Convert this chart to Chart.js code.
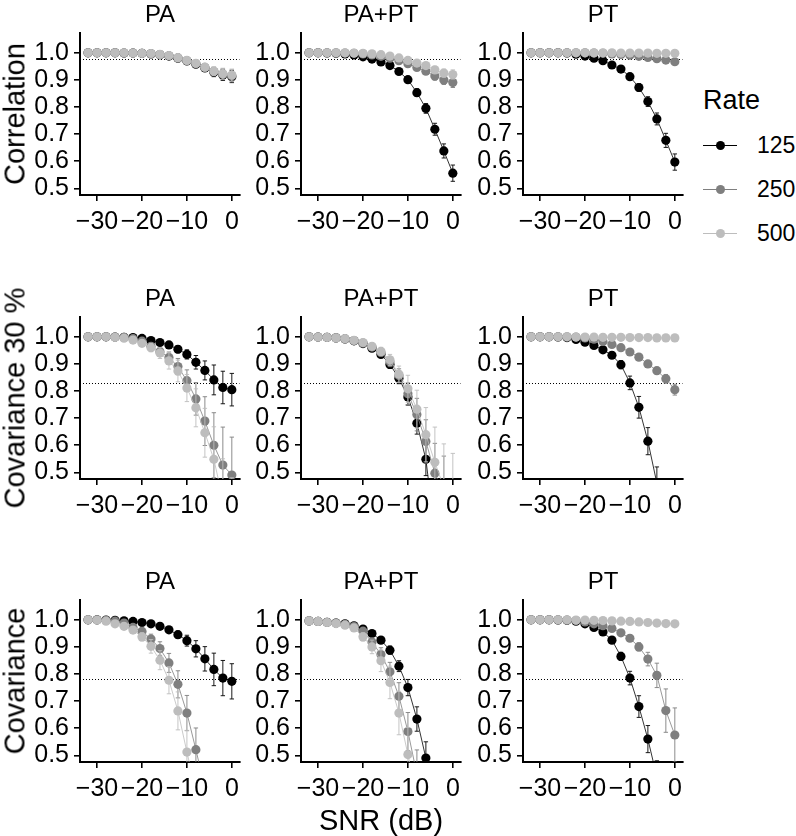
<!DOCTYPE html>
<html><head><meta charset="utf-8">
<script src="https://cdn.jsdelivr.net/npm/chart.js@4.4.0/dist/chart.umd.min.js"></script>
<style>
body{margin:0;background:#fff;width:796px;height:836px;position:relative;overflow:hidden;font-family:"Liberation Sans",Arial,sans-serif;}
canvas{position:absolute;}
.t{position:absolute;white-space:nowrap;color:#000;line-height:1;}
.c{transform:translate(-50%,-50%);}
.l{transform:translate(0,-50%);}
.r{transform:translate(-50%,-50%) rotate(-90deg);}
.key{position:absolute;height:1px;}
.dot{position:absolute;width:9px;height:9px;border-radius:50%;}
</style></head><body>
<script>
// ---------- data ----------
const snr = [-32,-30,-28,-26,-24,-22,-20,-18,-16,-14,-12,-10,-8,-6,-4,-2,0];
const rates = ['125','250','500'];
const rateColors = ['#000000','#7f7f7f','#bdbdbd'];
const panelTitles = ['PA','PA+PT','PT'];
const rowLabels = ['Correlation','Covariance 30 %','Covariance'];
const refLines = [0.978, 0.83, 0.78];
const xTicks = [-30,-20,-10,0];
const yTicks = [0.5,0.6,0.7,0.8,0.9,1.0];

// Row 1: Correlation
const corrPA125    = [1.000,1.000,1.000,1.000,0.999,0.999,0.998,0.996,0.993,0.988,0.980,0.970,0.958,0.944,0.928,0.918,0.912];
const corrPA125Err = [0,0,0,0,0,0,0,0.001,0.002,0.003,0.005,0.007,0.010,0.012,0.016,0.020,0.022];
const corrPA250    = [1.000,1.000,1.000,1.000,0.999,0.999,0.998,0.996,0.993,0.989,0.981,0.971,0.960,0.946,0.931,0.921,0.915];
const corrPA250Err = [0,0,0,0,0,0,0,0.001,0.002,0.003,0.005,0.007,0.010,0.012,0.016,0.020,0.022];
const corrPA500    = [1.000,1.000,1.000,1.000,1.000,0.999,0.998,0.997,0.994,0.990,0.982,0.972,0.961,0.947,0.932,0.923,0.918];
const corrPA500Err = [0,0,0,0,0,0,0,0.001,0.002,0.003,0.005,0.007,0.010,0.012,0.016,0.020,0.022];

const corrPAPT125    = [1.000,1.000,0.999,0.998,0.996,0.992,0.985,0.977,0.966,0.953,0.931,0.901,0.853,0.795,0.718,0.638,0.556];
const corrPAPT125Err = [0,0,0,0,0.001,0.002,0.003,0.004,0.005,0.006,0.008,0.010,0.014,0.018,0.022,0.026,0.030];
const corrPAPT250    = [1.000,1.000,1.000,1.000,0.999,0.998,0.996,0.992,0.987,0.980,0.971,0.960,0.946,0.932,0.914,0.900,0.890];
const corrPAPT250Err = [0,0,0,0,0,0,0.001,0.002,0.003,0.004,0.006,0.008,0.010,0.012,0.015,0.017,0.018];
const corrPAPT500    = [1.000,1.000,1.000,1.000,1.000,0.999,0.998,0.996,0.993,0.988,0.981,0.972,0.962,0.953,0.937,0.925,0.920];
const corrPAPT500Err = [0,0,0,0,0,0,0.001,0.001,0.002,0.003,0.005,0.007,0.009,0.011,0.013,0.015,0.017];

const corrPT125    = [1.000,1.000,1.000,1.000,0.999,0.995,0.988,0.980,0.971,0.955,0.940,0.912,0.872,0.820,0.756,0.677,0.597];
const corrPT125Err = [0,0,0,0,0.001,0.002,0.003,0.004,0.005,0.006,0.008,0.010,0.014,0.018,0.022,0.026,0.030];
const corrPT250    = [1.000,1.000,1.000,1.000,1.000,1.000,1.000,0.999,0.998,0.996,0.994,0.991,0.987,0.983,0.978,0.973,0.967];
const corrPT250Err = [0,0,0,0,0,0,0,0,0.001,0.001,0.002,0.002,0.003,0.003,0.004,0.004,0.005];
const corrPT500    = [1.000,1.000,1.000,1.000,1.000,1.000,1.000,1.000,1.000,1.000,0.999,0.999,0.999,0.999,0.998,0.998,0.998];
const corrPT500Err = [0,0,0,0,0,0,0,0,0,0,0,0,0,0.001,0.001,0.001,0.001];

// Row 2: Covariance 30 %
const cov30PA125    = [1.000,1.000,1.000,0.999,0.998,0.997,0.994,0.986,0.979,0.970,0.954,0.935,0.906,0.876,0.841,0.813,0.805];
const cov30PA125Err = [0,0,0,0,0,0.002,0.003,0.005,0.007,0.010,0.013,0.017,0.025,0.035,0.055,0.060,0.060];
const cov30PA250    = [1.000,1.000,1.000,0.999,0.998,0.993,0.984,0.965,0.945,0.924,0.890,0.838,0.771,0.689,0.600,0.527,0.490];
const cov30PA250Err = [0,0,0,0,0.002,0.004,0.006,0.010,0.015,0.020,0.030,0.040,0.060,0.090,0.120,0.140,0.140];
const cov30PA500    = [1.000,1.000,1.000,0.998,0.995,0.988,0.976,0.960,0.940,0.911,0.874,0.811,0.738,0.646,0.548,0.400,0.330];
const cov30PA500Err = [0,0,0,0.001,0.003,0.006,0.010,0.015,0.020,0.030,0.040,0.050,0.070,0.090,0.120,0.150,0.150];

const cov30PAPT125    = [1.000,0.999,0.998,0.996,0.992,0.985,0.975,0.958,0.935,0.898,0.847,0.778,0.681,0.548,0.280,null,null];
const cov30PAPT125Err = [0,0,0,0,0.002,0.004,0.006,0.008,0.010,0.015,0.020,0.030,0.040,0.060,0.080,0,0];
const cov30PAPT250    = [1.000,0.999,0.998,0.996,0.992,0.986,0.977,0.962,0.942,0.908,0.857,0.790,0.713,0.614,0.497,0.420,null];
const cov30PAPT250Err = [0,0,0,0,0.002,0.004,0.006,0.008,0.012,0.018,0.025,0.040,0.060,0.080,0.110,0.140,0];
const cov30PAPT500    = [1.000,0.999,0.998,0.996,0.993,0.987,0.979,0.965,0.946,0.915,0.862,0.808,0.733,0.639,0.537,0.445,0.400];
const cov30PAPT500Err = [0,0,0,0,0.002,0.004,0.006,0.010,0.015,0.020,0.030,0.050,0.070,0.100,0.130,0.160,0.170];

const cov30PT125    = [1.000,1.000,1.000,0.999,0.997,0.990,0.980,0.968,0.952,0.932,0.897,0.830,0.740,0.615,0.460,null,null];
const cov30PT125Err = [0,0,0,0,0.002,0.004,0.006,0.008,0.010,0.012,0.015,0.025,0.040,0.050,0.060,0,0];
const cov30PT250    = [1.000,1.000,1.000,1.000,1.000,0.999,0.996,0.991,0.983,0.972,0.960,0.944,0.925,0.900,0.875,0.845,0.805];
const cov30PT250Err = [0,0,0,0,0,0,0.001,0.002,0.003,0.004,0.005,0.006,0.008,0.010,0.012,0.016,0.020];
const cov30PT500    = [1.000,1.000,1.000,1.000,1.000,0.999,0.999,0.999,0.998,0.998,0.998,0.997,0.997,0.997,0.996,0.996,0.996];
const cov30PT500Err = [0,0,0,0,0,0,0,0,0,0,0.001,0.001,0.001,0.001,0.001,0.001,0.001];

// Row 3: Covariance
const covPA125    = [1.000,1.000,0.999,0.998,0.996,0.994,0.990,0.985,0.976,0.963,0.945,0.923,0.893,0.856,0.817,0.785,0.773];
const covPA125Err = [0,0,0,0,0.002,0.003,0.004,0.005,0.007,0.010,0.013,0.020,0.030,0.045,0.060,0.065,0.065];
const covPA250    = [1.000,0.999,0.998,0.995,0.988,0.972,0.957,0.929,0.894,0.841,0.762,0.656,0.521,0.380,null,null,null];
const covPA250Err = [0,0,0,0.002,0.004,0.008,0.012,0.018,0.025,0.035,0.050,0.065,0.080,0.090,0,0,0];
const covPA500    = [1.000,0.999,0.995,0.985,0.976,0.962,0.937,0.902,0.851,0.777,0.664,0.512,0.370,null,null,null,null];
const covPA500Err = [0,0,0.002,0.004,0.006,0.010,0.015,0.025,0.035,0.050,0.070,0.080,0.090,0,0,0,0];

const covPAPT125    = [0.996,0.994,0.991,0.988,0.985,0.978,0.966,0.949,0.925,0.888,0.829,0.750,0.634,0.490,0.330,null,null];
const covPAPT125Err = [0,0,0,0,0.002,0.004,0.006,0.008,0.010,0.015,0.020,0.030,0.045,0.060,0.070,0,0];
const covPAPT250    = [0.996,0.994,0.991,0.988,0.983,0.975,0.958,0.918,0.872,0.808,0.718,0.588,0.430,null,null,null,null];
const covPAPT250Err = [0,0,0,0,0.003,0.005,0.008,0.015,0.025,0.035,0.050,0.070,0.090,0,0,0,0];
const covPAPT500    = [0.996,0.994,0.990,0.986,0.980,0.970,0.937,0.900,0.849,0.769,0.656,0.503,0.350,null,null,null,null];
const covPAPT500Err = [0,0,0,0,0.004,0.008,0.015,0.025,0.040,0.060,0.080,0.100,0.110,0,0,0,0];

const covPT125    = [1.000,1.000,1.000,0.999,0.998,0.995,0.985,0.972,0.955,0.925,0.865,0.785,0.680,0.560,0.420,null,null];
const covPT125Err = [0,0,0,0,0.001,0.002,0.004,0.006,0.008,0.010,0.015,0.025,0.040,0.050,0.060,0,0];
const covPT250    = [1.000,1.000,1.000,1.000,0.999,0.997,0.992,0.985,0.978,0.968,0.952,0.932,0.900,0.855,0.795,0.665,0.575];
const covPT250Err = [0,0,0,0,0,0.001,0.002,0.003,0.004,0.006,0.008,0.010,0.015,0.025,0.045,0.080,0.100];
const covPT500    = [1.000,1.000,1.000,1.000,1.000,0.999,0.999,0.998,0.997,0.996,0.995,0.994,0.992,0.990,0.988,0.986,0.985];
const covPT500Err = [0,0,0,0,0,0,0,0,0,0,0.001,0.001,0.001,0.001,0.001,0.002,0.002];

// panel grid: [row][col] -> [values, errors] per rate
const grid = [
  [[[corrPA125,corrPA125Err],[corrPA250,corrPA250Err],[corrPA500,corrPA500Err]],
   [[corrPAPT125,corrPAPT125Err],[corrPAPT250,corrPAPT250Err],[corrPAPT500,corrPAPT500Err]],
   [[corrPT125,corrPT125Err],[corrPT250,corrPT250Err],[corrPT500,corrPT500Err]]],
  [[[cov30PA125,cov30PA125Err],[cov30PA250,cov30PA250Err],[cov30PA500,cov30PA500Err]],
   [[cov30PAPT125,cov30PAPT125Err],[cov30PAPT250,cov30PAPT250Err],[cov30PAPT500,cov30PAPT500Err]],
   [[cov30PT125,cov30PT125Err],[cov30PT250,cov30PT250Err],[cov30PT500,cov30PT500Err]]],
  [[[covPA125,covPA125Err],[covPA250,covPA250Err],[covPA500,covPA500Err]],
   [[covPAPT125,covPAPT125Err],[covPAPT250,covPAPT250Err],[covPAPT500,covPAPT500Err]],
   [[covPT125,covPT125Err],[covPT250,covPT250Err],[covPT500,covPT500Err]]]
];

// ---------- layout ----------
const colLeft = [80, 301, 523];
const rowTop = [33, 317, 600];
const areaW = 160, areaH = 162;
const yAxisW = 62, xAxisH = 48;
const FONT = '"Liberation Sans", Arial, sans-serif';

const errPlugin = {
  id: 'err',
  beforeDatasetsDraw(chart) {
    const {ctx, chartArea: a, scales: {y}} = chart;
    const py = Math.round(y.getPixelForValue(chart.options.plugins.err.ref)) + 0.5;
    ctx.save();
    ctx.strokeStyle = '#000'; ctx.lineWidth = 1; ctx.setLineDash([1, 2]);
    ctx.beginPath(); ctx.moveTo(a.left, py); ctx.lineTo(a.right, py); ctx.stroke();
    ctx.restore();
  },
  beforeDatasetDraw(chart, args) {
    const ds = chart.data.datasets[args.index];
    const err = ds.err; if (!err) return;
    const {ctx, chartArea: a, scales: {x, y}} = chart;
    ctx.save();
    ctx.beginPath(); ctx.rect(a.left, a.top, a.right - a.left, a.bottom - a.top); ctx.clip();
    ctx.strokeStyle = ds.borderColor; ctx.lineWidth = 0.9;
    ds.data.forEach((p, i) => {
      if (p.y == null || !err[i]) return;
      const px = x.getPixelForValue(p.x);
      const y1 = y.getPixelForValue(p.y - err[i]);
      const y2 = y.getPixelForValue(p.y + err[i]);
      ctx.beginPath();
      ctx.moveTo(px, y1); ctx.lineTo(px, y2);
      ctx.moveTo(px - 2.2, y1); ctx.lineTo(px + 2.2, y1);
      ctx.moveTo(px - 2.2, y2); ctx.lineTo(px + 2.2, y2);
      ctx.stroke();
    });
    ctx.restore();
  }
};

function addText(txt, x, y, size, cls) {
  const d = document.createElement('div');
  d.className = 't ' + cls;
  d.textContent = txt;
  d.style.left = x + 'px'; d.style.top = y + 'px'; d.style.fontSize = size + 'px';
  document.body.appendChild(d);
  return d;
}

const fmtX = v => v < 0 ? '\u2212' + Math.abs(v) : String(v);

for (let r = 0; r < 3; r++) {
  for (let c = 0; c < 3; c++) {
    const cv = document.createElement('canvas');
    const w = yAxisW + areaW + 12, h = 20 + areaH + xAxisH;
    cv.width = w; cv.height = h;
    cv.style.left = (colLeft[c] - yAxisW) + 'px';
    cv.style.top = (rowTop[r] - 20) + 'px';
    document.body.appendChild(cv);

    const datasets = grid[r][c].map((s, k) => ({
      label: rates[k],
      data: snr.map((x, i) => ({x: x, y: s[0][i]})),
      err: s[1],
      borderColor: rateColors[k],
      backgroundColor: rateColors[k],
      pointBackgroundColor: rateColors[k],
      pointBorderColor: rateColors[k],
      pointRadius: 4.6,
      pointBorderWidth: 0,
      borderWidth: 0.8,
      tension: 0,
      spanGaps: false,
      clip: 0,
      order: 3 - k
    }));

    const tickFont = {family: FONT, size: 25};
    const chart = new Chart(cv, {
      type: 'line',
      data: {datasets},
      plugins: [errPlugin],
      options: {
        responsive: false, maintainAspectRatio: false, animation: false, devicePixelRatio: 1,
        layout: {padding: 0},
        plugins: {legend: {display: false}, tooltip: {enabled: false}, err: {ref: refLines[r]}},
        scales: {
          x: {
            type: 'linear', min: -33.8, max: 1.7,
            afterBuildTicks: s => { s.ticks = xTicks.map(v => ({value: v})); },
            afterFit: s => { s.height = xAxisH; },
            ticks: {autoSkip: false, maxRotation: 0, minRotation: 0, padding: 6, color: '#000', font: tickFont,
                    callback: v => fmtX(v)},
            grid: {display: true, drawOnChartArea: false, drawTicks: true, tickLength: 6, color: '#000', lineWidth: 1.6},
            border: {display: true, color: '#000', width: 2}
          },
          y: {
            type: 'linear', min: 0.4755, max: 1.073,
            afterBuildTicks: s => { s.ticks = yTicks.map(v => ({value: v})); },
            afterFit: s => { s.width = yAxisW; },
            ticks: {autoSkip: false, padding: 5, color: '#000', font: tickFont,
                    callback: v => Number(v).toFixed(1)},
            grid: {display: true, drawOnChartArea: false, drawTicks: true, tickLength: 6, color: '#000', lineWidth: 1.6},
            border: {display: true, color: '#000', width: 2}
          }
        }
      }
    });
    // size the canvas so that the plotting area has the intended size, then place it
    let ca = chart.chartArea;
    const nw = Math.round(w + areaW - (ca.right - ca.left));
    const nh = Math.round(h + areaH - (ca.bottom - ca.top));
    chart.resize(nw, nh);
    ca = chart.chartArea;
    cv.style.left = (colLeft[c] - ca.left) + 'px';
    cv.style.top = (rowTop[r] - ca.top) + 'px';

    addText(panelTitles[c], colLeft[c] + areaW / 2, rowTop[r] - 19, 24, 'c');
  }
  addText(rowLabels[r], 15, rowTop[r] + areaH / 2, 29, 'r');
}

addText('SNR (dB)', 381, 820, 29, 'c');

// legend
addText('Rate', 703, 100, 27, 'l');
const legY = [145, 189, 233];
rates.forEach((lab, k) => {
  const ln = document.createElement('div');
  ln.className = 'key';
  ln.style.left = '703px'; ln.style.width = '34px'; ln.style.top = (legY[k] - 0.5) + 'px';
  ln.style.background = rateColors[k];
  document.body.appendChild(ln);
  const dt = document.createElement('div');
  dt.className = 'dot';
  dt.style.left = '715.5px'; dt.style.top = (legY[k] - 4.5) + 'px';
  dt.style.background = rateColors[k];
  document.body.appendChild(dt);
  addText(lab, 757, legY[k], 23, 'l');
});
</script>
</body></html>
